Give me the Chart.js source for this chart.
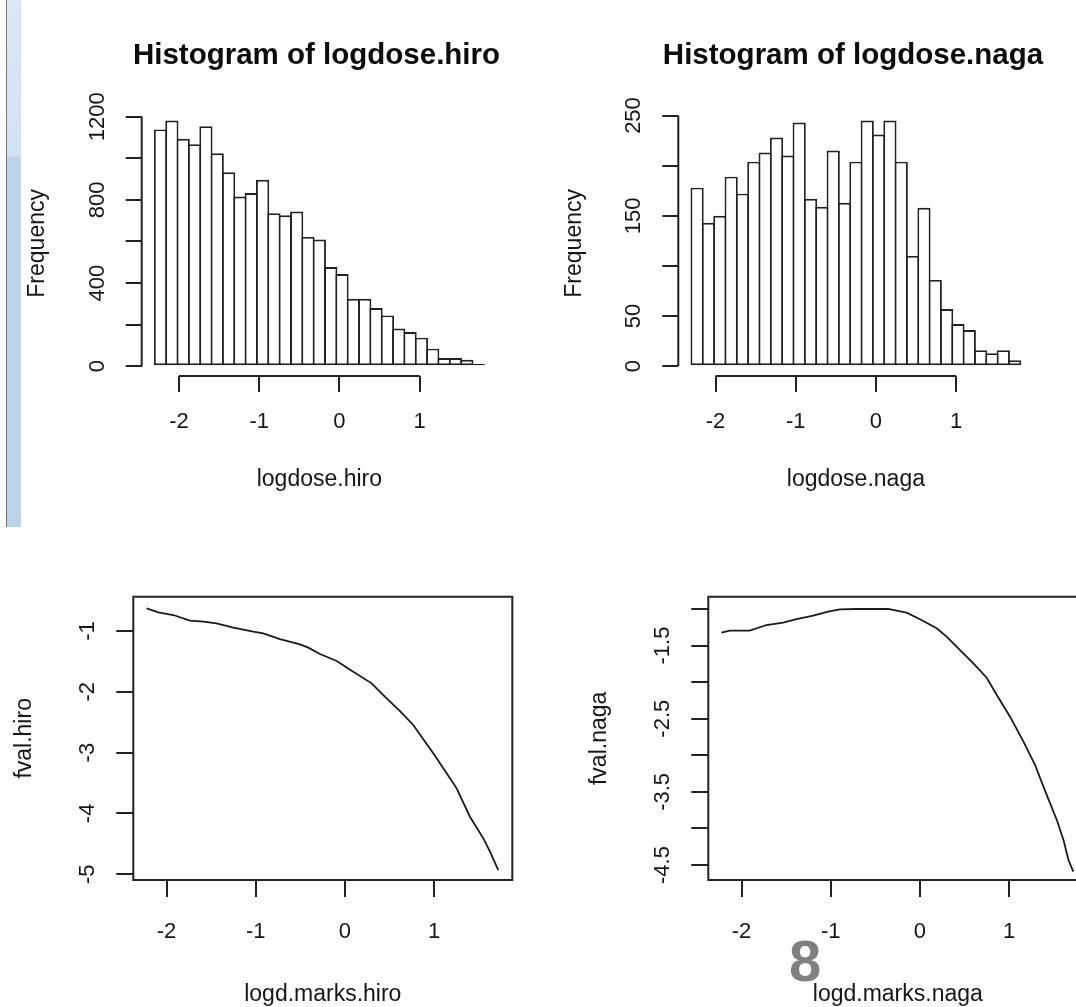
<!DOCTYPE html>
<html lang="en">
<head>
<meta charset="UTF-8">
<title>logdose histograms and fval curves</title>
<script src="https://cdn.jsdelivr.net/npm/chart.js@4.4.1/dist/chart.umd.min.js"></script>
<style>
  html, body { margin: 0; padding: 0; overflow: hidden; background: #fff; }
  #page { position: relative; width: 1076px; height: 1007px; overflow: hidden; background: #fff; }
  #page canvas { position: absolute; }
  /* window edge on the left of the screenshot */
  #edgeLine { position: absolute; left: 6px; top: 0; width: 1px; height: 527px; background: #777; }
  #edgeBar { position: absolute; left: 7px; top: 0; width: 14px; height: 527px;
    background: linear-gradient(#dbe7f4 0, #d3e2f2 155px, #bdd3eb 158px, #bdd3eb 100%); }
  /* hist() main titles, centred over each plot */
  .main { position: absolute; top: 38.5px; width: 440px; text-align: center; white-space: nowrap;
    font: bold 29.5px 'Liberation Sans', Arial, sans-serif; line-height: 1; color: #0c0c0c; }
  #pageNo { position: absolute; left: 789px; top: 932px; font: bold 58px 'Liberation Sans', Arial, sans-serif;
    line-height: 1; color: #808080; }
</style>
</head>
<body>
<div id="page">
  <div id="edgeLine"></div>
  <div id="edgeBar"></div>
  <canvas id="histHiro"></canvas>
  <canvas id="histNaga"></canvas>
  <canvas id="fvalHiro"></canvas>
  <canvas id="fvalNaga"></canvas>
  <div class="main" style="left:96.5px">Histogram of logdose.hiro</div>
  <div class="main" style="left:633px">Histogram of logdose.naga</div>
  <div id="pageNo">8</div>
</div>

<script>
// ---- data ----
// histogram breaks (same for both histograms)
const breaks = [-2.3, -2.159, -2.017, -1.876, -1.734, -1.593, -1.452, -1.310, -1.169, -1.028,
  -0.886, -0.745, -0.603, -0.462, -0.321, -0.179, -0.038, 0.103, 0.245, 0.386,
  0.528, 0.669, 0.810, 0.952, 1.093, 1.234, 1.376, 1.517, 1.659, 1.800];

const hiroCounts = [1139, 1182, 1094, 1068, 1155, 1024, 933, 816, 833, 897, 736, 726, 744, 622, 609,
  477, 443, 324, 324, 280, 244, 181, 164, 137, 84, 39, 39, 31, 12];
const nagaCounts = [178, 143, 150, 189, 172, 204, 213, 228, 210, 243, 167, 159, 215, 163, 204,
  245, 231, 245, 204, 110, 158, 86, 57, 42, 36, 16, 13, 16, 6];

const histXTicks = [-2, -1, 0, 1];
const histXLabels = ['-2', '-1', '0', '1'];
const hiroYTicks = [0, 200, 400, 600, 800, 1000, 1200];
const hiroYLabels = ['0', '', '400', '', '800', '', '1200'];
const nagaYTicks = [0, 50, 100, 150, 200, 250];
const nagaYLabels = ['0', '50', '', '150', '', '250'];

// fitted curves
const marksHiro = [-2.223, -2.093, -1.925, -1.738, -1.588, -1.439, -1.252, -1.028, -0.916, -0.729,
  -0.504, -0.411, -0.280, -0.093, 0.093, 0.299, 0.430, 0.617, 0.766, 0.878,
  0.990, 1.140, 1.252, 1.401, 1.551, 1.626, 1.719];
const fvalHiro = [-0.627, -0.693, -0.737, -0.830, -0.847, -0.874, -0.945, -1.011, -1.038, -1.132,
  -1.219, -1.274, -1.378, -1.493, -1.669, -1.861, -2.053, -2.316, -2.546, -2.782,
  -3.012, -3.341, -3.588, -4.054, -4.410, -4.629, -4.931];
const marksNaga = [-2.226, -2.132, -1.908, -1.721, -1.534, -1.384, -1.197, -1.029, -0.898, -0.711,
  -0.524, -0.355, -0.262, -0.150, 0.000, 0.187, 0.299, 0.449, 0.599, 0.748,
  0.861, 1.010, 1.160, 1.291, 1.384, 1.534, 1.609, 1.665, 1.719];
const fvalNaga = [-1.324, -1.296, -1.296, -1.219, -1.187, -1.137, -1.091, -1.036, -1.005, -1.000,
  -1.000, -1.000, -1.023, -1.050, -1.141, -1.264, -1.378, -1.561, -1.743, -1.939,
  -2.176, -2.472, -2.814, -3.133, -3.429, -3.885, -4.158, -4.432, -4.591];

const lineXTicks = [-2, -1, 0, 1];
const lineXLabels = ['-2', '-1', '0', '1'];
const fHiroYTicks = [-5, -4, -3, -2, -1];
const fHiroYLabels = ['-5', '-4', '-3', '-2', '-1'];
const fNagaYTicks = [-4.5, -4, -3.5, -3, -2.5, -2, -1.5, -1];
const fNagaYLabels = ['-4.5', '', '-3.5', '', '-2.5', '', '-1.5', ''];

// ---- look ----
const FONT = "'Liberation Sans', Arial, sans-serif";
const INK = '#161616';
const LINE = '#222';
const TICK_SIZE = 22;
const LAB_SIZE = 23;

const meas = document.createElement('canvas').getContext('2d');
function widest(labels) {
  meas.font = TICK_SIZE + 'px ' + FONT;
  return Math.max(...labels.map(t => meas.measureText(t).width));
}

// R style axes: partial axis lines for hist(), full box for plot()
const rAxes = {
  id: 'rAxes',
  afterDatasetsDraw(chart, args, opts) {
    const { ctx, chartArea: a, scales: { x, y } } = chart;
    ctx.save();
    ctx.strokeStyle = LINE;
    ctx.lineWidth = 2;
    ctx.beginPath();
    if (opts.box) {
      ctx.rect(a.left, a.top, a.right - a.left, a.bottom - a.top);
    } else {
      const xs = x.ticks, ys = y.ticks;
      ctx.moveTo(x.getPixelForValue(xs[0].value), a.bottom);
      ctx.lineTo(x.getPixelForValue(xs[xs.length - 1].value), a.bottom);
      ctx.moveTo(a.left, y.getPixelForValue(ys[0].value));
      ctx.lineTo(a.left, y.getPixelForValue(ys[ys.length - 1].value));
    }
    ctx.stroke();
    ctx.restore();
  }
};

// geo: canvas box and plot box in page pixels, plus text offsets measured on the picture
function rChart(id, geo, cfg) {
  const [cx, cy, cw, ch] = geo.canvas;
  const [l, t, r, b] = [geo.area[0] - cx, geo.area[1] - cy, geo.area[2] - cx, geo.area[3] - cy];
  const el = document.getElementById(id);
  el.width = cw;
  el.height = ch;
  el.style.left = cx + 'px';
  el.style.top = cy + 'px';

  const tl = geo.tick;
  const xAxisH = geo.xTitleMid - geo.area[3] + LAB_SIZE * 0.6;
  const xPad = geo.xLabMid - geo.area[3] - tl - TICK_SIZE * 0.6;
  const yPad = geo.yLabGap - tl - widest(cfg.yLabels) / 2;
  const yTitlePad = l - geo.yTitleGap - LAB_SIZE * 0.6;

  const tickFont = { size: TICK_SIZE, family: FONT };
  const labFont = { size: LAB_SIZE, family: FONT };
  const grid = { display: true, drawOnChartArea: false, drawTicks: true, tickLength: tl, color: LINE, lineWidth: 2 };

  return new Chart(el, {
    type: cfg.type,
    data: { datasets: [cfg.dataset] },
    options: {
      responsive: false,
      animation: false,
      events: [],
      layout: { padding: { left: 0, top: t, right: cw - r, bottom: ch - b - xAxisH } },
      plugins: {
        legend: { display: false },
        tooltip: { enabled: false },
        rAxes: { box: cfg.box }
      },
      scales: {
        x: {
          type: 'linear', min: cfg.xMin, max: cfg.xMax, offset: false,
          afterBuildTicks: s => { s.ticks = cfg.xTicks.map(v => ({ value: v })); },
          afterFit: s => { s.height = xAxisH; },
          grid: Object.assign({ offset: false }, grid),
          border: { display: false },
          ticks: { autoSkip: false, minRotation: 0, maxRotation: 0, padding: xPad, color: INK, font: tickFont,
            callback: (v, i) => cfg.xLabels[i] },
          title: { display: true, text: cfg.xTitle, color: INK, font: labFont, padding: { top: 0, bottom: 0 } }
        },
        y: {
          type: 'linear', min: cfg.yMin, max: cfg.yMax,
          afterBuildTicks: s => { s.ticks = cfg.yTicks.map(v => ({ value: v })); },
          afterFit: s => { s.width = l; },
          grid: grid,
          border: { display: false },
          ticks: { autoSkip: false, minRotation: 90, maxRotation: 90, crossAlign: 'center', padding: yPad,
            color: INK, font: tickFont, callback: (v, i) => cfg.yLabels[i] },
          title: { display: true, text: cfg.yTitle, color: INK, font: labFont, padding: { top: yTitlePad, bottom: 0 } }
        }
      }
    },
    plugins: [rAxes]
  });
}

const mids = breaks.slice(1).map((e, i) => (e + breaks[i]) / 2);

function histSet(counts) {
  return {
    data: mids.map((x, i) => ({ x, y: counts[i] })),
    backgroundColor: '#fff',
    borderColor: LINE,
    borderWidth: 1.9,
    borderSkipped: false,
    categoryPercentage: 1,
    barPercentage: 1.167,   // lets neighbouring bars share one edge line
    grouped: false
  };
}

function curveSet(xs, ys) {
  return {
    data: xs.map((x, i) => ({ x, y: ys[i] })),
    borderColor: '#1a1a1a',
    borderWidth: 1.8,
    pointRadius: 0,
    fill: false,
    tension: 0
  };
}

const topRow = { tick: 16, yLabGap: 44, xLabMid: 422.4, xTitleMid: 479.5, yTitleGap: 104 };
const bottomRow = { tick: 17, yLabGap: 45.8, xLabMid: 932.4, xTitleMid: 995, yTitleGap: 109 };

function usr(counts) {
  const m = Math.max(...counts);
  return [-0.04 * m, 1.04 * m];
}

rChart('histHiro', Object.assign({ canvas: [0, 0, 538, 530], area: [141.7, 110.7, 497, 376] }, topRow), {
  type: 'bar', box: false,
  dataset: histSet(hiroCounts),
  xMin: -2.464, xMax: 1.964, xTicks: histXTicks, xLabels: histXLabels, xTitle: 'logdose.hiro',
  yMin: usr(hiroCounts)[0], yMax: usr(hiroCounts)[1], yTicks: hiroYTicks, yLabels: hiroYLabels, yTitle: 'Frequency'
});

rChart('histNaga', Object.assign({ canvas: [538, 0, 538, 530], area: [678.3, 110.7, 1033.5, 376] }, topRow), {
  type: 'bar', box: false,
  dataset: histSet(nagaCounts),
  xMin: -2.464, xMax: 1.964, xTicks: histXTicks, xLabels: histXLabels, xTitle: 'logdose.naga',
  yMin: usr(nagaCounts)[0], yMax: usr(nagaCounts)[1], yTicks: nagaYTicks, yLabels: nagaYLabels, yTitle: 'Frequency'
});

rChart('fvalHiro', Object.assign({ canvas: [0, 530, 540, 490], area: [133.3, 596.7, 512.3, 880] }, bottomRow), {
  type: 'line', box: true,
  dataset: curveSet(marksHiro, fvalHiro),
  xMin: -2.373, xMax: 1.876, xTicks: lineXTicks, xLabels: lineXLabels, xTitle: 'logd.marks.hiro',
  yMin: -5.095, yMax: -0.436, yTicks: fHiroYTicks, yLabels: fHiroYLabels, yTitle: 'fval.hiro'
});

rChart('fvalNaga', Object.assign({ canvas: [560, 530, 560, 490], area: [708.3, 596.7, 1087.3, 880] }, bottomRow), {
  type: 'line', box: true,
  dataset: curveSet(marksNaga, fvalNaga),
  xMin: -2.373, xMax: 1.876, xTicks: lineXTicks, xLabels: lineXLabels, xTitle: 'logd.marks.naga',
  yMin: -4.705, yMax: -0.832, yTicks: fNagaYTicks, yLabels: fNagaYLabels, yTitle: 'fval.naga'
});
</script>
</body>
</html>
